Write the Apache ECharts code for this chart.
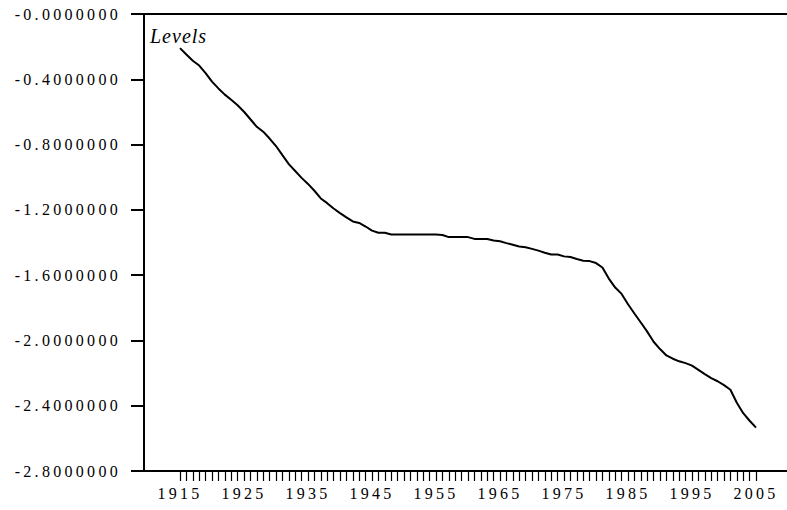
<!DOCTYPE html>
<html>
<head>
<meta charset="utf-8">
<script src="https://cdn.jsdelivr.net/npm/echarts@6/dist/echarts.min.js"></script>
<style>
html,body{margin:0;padding:0;background:#fff;}
#chart{width:787px;height:510px;}
#chart text{letter-spacing:3.3px;}
#chart text[style*="italic"]{letter-spacing:1px;}
</style>
</head>
<body>
<div id="chart"></div>
<script>
const years = [];
for (let y = 1915; y <= 2005; y++) years.push(y);

const levels = [
 -0.209,-0.248,-0.286,-0.316,-0.362,-0.414,-0.456,-0.494,-0.525,-0.559,
 -0.599,-0.645,-0.691,-0.721,-0.763,-0.809,-0.865,-0.920,-0.962,-1.004,
 -1.041,-1.083,-1.130,-1.159,-1.192,-1.220,-1.246,-1.271,-1.280,-1.302,
 -1.327,-1.340,-1.340,-1.351,-1.351,-1.351,-1.351,-1.351,-1.351,-1.351,
 -1.351,-1.354,-1.367,-1.367,-1.367,-1.367,-1.378,-1.378,-1.378,-1.388,
 -1.392,-1.404,-1.414,-1.425,-1.429,-1.439,-1.450,-1.463,-1.474,-1.474,
 -1.485,-1.489,-1.501,-1.512,-1.514,-1.526,-1.553,-1.621,-1.676,-1.715,
 -1.778,-1.835,-1.890,-1.946,-2.008,-2.053,-2.092,-2.112,-2.128,-2.139,
 -2.154,-2.180,-2.206,-2.231,-2.250,-2.274,-2.302,-2.382,-2.446,-2.492,
 -2.534
];

const xLabelYears = [1915,1925,1935,1945,1955,1965,1975,1985,1995,2005];
const yTickValues = [0,-0.4,-0.8,-1.2,-1.6,-2.0,-2.4,-2.8];
const yTickLabels = ['-0.0000000','-0.4000000','-0.8000000','-1.2000000','-1.6000000','-2.0000000','-2.4000000','-2.8000000'];
const seriesName = 'Levels';

const chart = echarts.init(document.getElementById('chart'), null, {renderer: 'svg'});
const font = 'Liberation Serif';
const xMin = 1909.375, xMax = 2009.84;

chart.setOption({
  animation: false,
  backgroundColor: '#fff',
  grid: {left: 144, right: 0, top: 14, bottom: 39},
  xAxis: [{
    type: 'value', position: 'bottom', min: xMin, max: xMax,
    splitLine: {show: false},
    axisLine: {show: true, onZero: false, lineStyle: {color: '#000', width: 2}},
    axisTick: {show: true, inside: false, length: 10, customValues: years, lineStyle: {color: '#000', width: 1.2}},
    axisLabel: {show: true, customValues: xLabelYears, margin: 14, color: '#000', fontFamily: font, fontSize: 16,
      formatter: v => String(Math.round(v))}
  }, {
    type: 'value', position: 'top', min: xMin, max: xMax,
    splitLine: {show: false},
    axisLine: {show: true, onZero: false, lineStyle: {color: '#000', width: 2}},
    axisTick: {show: false}, axisLabel: {show: false}
  }],
  yAxis: {
    type: 'value', min: -2.8, max: 0, interval: 0.4,
    splitLine: {show: false},
    axisLine: {show: true, onZero: false, lineStyle: {color: '#000', width: 2}},
    axisTick: {show: true, inside: false, length: 13, lineStyle: {color: '#000', width: 2}},
    axisLabel: {margin: 23, color: '#000', fontFamily: font, fontSize: 16,
      formatter: v => {
        let best = 0, d = Infinity;
        yTickValues.forEach((t, i) => { const dd = Math.abs(t - v); if (dd < d) { d = dd; best = i; } });
        return yTickLabels[best];
      }}
  },
  graphic: [{
    type: 'text', left: 150, top: 26,
    style: {text: seriesName, fill: '#000', font: 'italic 20px "Liberation Serif"'}
  }],
  series: [{
    name: seriesName, type: 'line', xAxisIndex: 0,
    data: years.map((y, i) => [y, levels[i]]),
    showSymbol: false, smooth: false,
    lineStyle: {color: '#000', width: 2}
  }]
});
</script>
</body>
</html>
